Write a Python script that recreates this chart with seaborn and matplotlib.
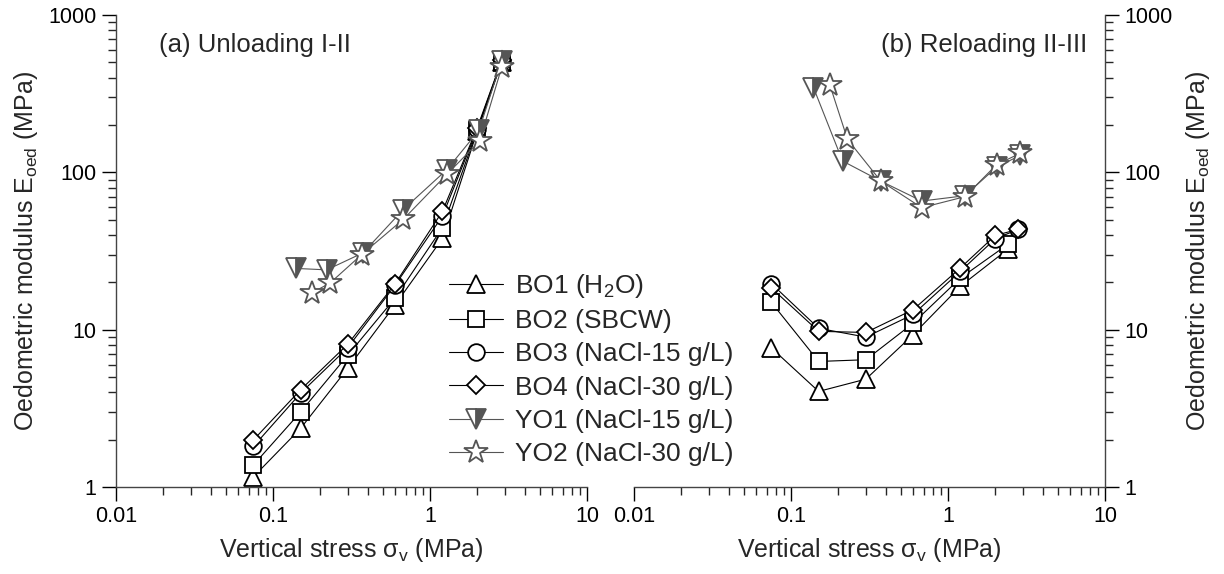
import matplotlib
matplotlib.use("Agg")
import matplotlib.pyplot as plt
import seaborn as sns
import pandas as pd
from matplotlib.ticker import FixedLocator, FuncFormatter, LogLocator, NullFormatter

# ---- data (MPa) ----
# (a) Unloading I-II
x_bo_a = [0.075, 0.15, 0.3, 0.6, 1.2, 2.0, 2.86]
bo1_a = [1.16, 2.36, 5.7, 14.4, 38, 183, 500]
bo2_a = [1.38, 3.0, 6.9, 15.9, 44.5, 186, 505]
bo3_a = [1.81, 3.95, 7.7, 19.2, 52.7, 188, 510]
bo4_a = [1.99, 4.15, 8.1, 19.6, 56.5, 192, 515]
x_yo1_a = [0.14, 0.22, 0.375, 0.675, 1.28, 2.05, 2.86]
yo1_a = [24.5, 24, 30.8, 58, 104, 185, 512]
x_yo2_a = [0.176, 0.231, 0.367, 0.676, 1.28, 2.07, 2.86]
yo2_a = [17.1, 19.8, 30, 50.3, 97, 158, 464]

# (b) Reloading II-III
x_bo12_b = [0.075, 0.15, 0.3, 0.6, 1.2, 2.4]
bo1_b = [7.65, 4.05, 4.85, 9.3, 18.9, 32.4]
bo2_b = [14.9, 6.28, 6.44, 11.0, 21.3, 34.8]
x_bo34_b = [0.075, 0.15, 0.3, 0.6, 1.2, 2.0, 2.8]
bo3_b = [19.6, 10.2, 8.97, 12.5, 23.5, 37.8, 43.4]
bo4_b = [18.4, 9.76, 9.6, 13.4, 24.7, 39.7, 43.4]
x_yo1_b = [0.139, 0.213, 0.373, 0.68, 1.28, 2.04, 2.88]
yo1_b = [346, 118, 88, 65.7, 71, 108, 128]
x_yo2_b = [0.177, 0.229, 0.373, 0.68, 1.28, 2.04, 2.88]
yo2_b = [358, 162, 88, 59.6, 70, 112, 132]

labels = ["BO1 (H$_2$O)", "BO2 (SBCW)", "BO3 (NaCl-15 g/L)",
          "BO4 (NaCl-30 g/L)", "YO1 (NaCl-15 g/L)", "YO2 (NaCl-30 g/L)"]
panel_titles = ["(a) Unloading I-II", "(b) Reloading II-III"]
xticks = [0.01, 0.1, 1, 10]
yticks = [1, 10, 100, 1000]

BLACK = "black"
GREY = "#555555"

styles = [
    dict(marker="^", ms=13, color=BLACK, mfc="white", mec=BLACK),
    dict(marker="s", ms=11, color=BLACK, mfc="white", mec=BLACK),
    dict(marker="o", ms=12, color=BLACK, mfc="white", mec=BLACK),
    dict(marker="D", ms=9, color=BLACK, mfc="white", mec=BLACK),
    dict(marker="v", ms=14, color=GREY, mfc=GREY, mec=GREY,
         fillstyle="right", markerfacecoloralt="white"),
    dict(marker="*", ms=17.5, color=GREY, mfc="white", mec=GREY),
]

panels = [
    [(x_bo_a, bo1_a), (x_bo_a, bo2_a), (x_bo_a, bo3_a), (x_bo_a, bo4_a),
     (x_yo1_a, yo1_a), (x_yo2_a, yo2_a)],
    [(x_bo12_b, bo1_b), (x_bo12_b, bo2_b), (x_bo34_b, bo3_b), (x_bo34_b, bo4_b),
     (x_yo1_b, yo1_b), (x_yo2_b, yo2_b)],
]

sns.set_style("ticks")
plt.rcParams["font.family"] = ["Liberation Sans", "DejaVu Sans"]
plt.rcParams["mathtext.fontset"] = "custom"
plt.rcParams["mathtext.rm"] = "Liberation Sans"
plt.rcParams["mathtext.it"] = "Liberation Sans"

fig = plt.figure(figsize=(12.24, 5.74), dpi=100)
ax_a = fig.add_axes([116 / 1224, 1 - 487 / 574, 471 / 1224, 472 / 574])
ax_b = fig.add_axes([634 / 1224, 1 - 487 / 574, 471 / 1224, 472 / 574])

ylab = "Oedometric modulus E$_{\\rm oed}$ (MPa)"
xlab = "Vertical stress \u03c3$_{\\rm v}$ (MPa)"
LABEL_FS = 18

for ax, series, title in zip([ax_a, ax_b], panels, panel_titles):
    for (xs, ys), st, lab in zip(series, styles, labels):
        df = pd.DataFrame({"x": xs, "y": ys})
        st = dict(st)
        sns.lineplot(data=df, x="x", y="y", ax=ax, sort=False, estimator=None,
                     marker=st.pop("marker"), markersize=st.pop("ms"),
                     color=st.pop("color"), markerfacecolor=st.pop("mfc"),
                     markeredgecolor=st.pop("mec"), markeredgewidth=1.3,
                     linewidth=0.8, label=lab, legend=False, **st)
    ax.set_xscale("log")
    ax.set_yscale("log")
    ax.set_xlim(0.01, 10)
    ax.set_ylim(1, 1000)
    ax.xaxis.set_major_locator(FixedLocator(xticks))
    ax.yaxis.set_major_locator(FixedLocator(yticks))
    ax.xaxis.set_minor_locator(LogLocator(base=10, subs=range(2, 10), numticks=20))
    ax.yaxis.set_minor_locator(LogLocator(base=10, subs=range(2, 10), numticks=20))
    ax.xaxis.set_minor_formatter(NullFormatter())
    ax.yaxis.set_minor_formatter(NullFormatter())
    fmt = FuncFormatter(lambda v, p: f"{v:g}")
    ax.xaxis.set_major_formatter(fmt)
    ax.yaxis.set_major_formatter(fmt)
    ax.tick_params(which="major", direction="out", length=10, width=1, labelsize=15.5,
                   colors="black", pad=4)
    ax.tick_params(which="minor", direction="out", length=5.5, width=1)
    ax.set_xlabel(xlab, fontsize=LABEL_FS, labelpad=6)
    for s in ax.spines.values():
        s.set_linewidth(1)
        s.set_color("#444444")

ax_a.spines["top"].set_visible(False)
ax_a.spines["right"].set_visible(False)
ax_a.set_ylabel(ylab, fontsize=LABEL_FS, labelpad=6)
ax_a.text(43 / 471, (487 - 45) / 472, panel_titles[0], transform=ax_a.transAxes,
          ha="left", va="center", fontsize=18.5)

ax_b.spines["top"].set_visible(False)
ax_b.spines["left"].set_visible(False)
ax_b.yaxis.tick_right()
ax_b.yaxis.set_label_position("right")
ax_b.set_ylabel(ylab, fontsize=LABEL_FS, labelpad=8)
ax_b.text((1087 - 634) / 471, (487 - 45) / 472, panel_titles[1], transform=ax_b.transAxes,
          ha="right", va="center", fontsize=18.5)

handles, labs = ax_a.get_legend_handles_labels()
fig.legend(handles, labs, loc="upper left", bbox_to_anchor=(449 / 1224, 1 - 272 / 574),
           frameon=False, fontsize=19, handlelength=2.05, handletextpad=0.45,
           labelspacing=0.35, borderpad=0, borderaxespad=0)

fig.savefig("out.png", dpi=100)
